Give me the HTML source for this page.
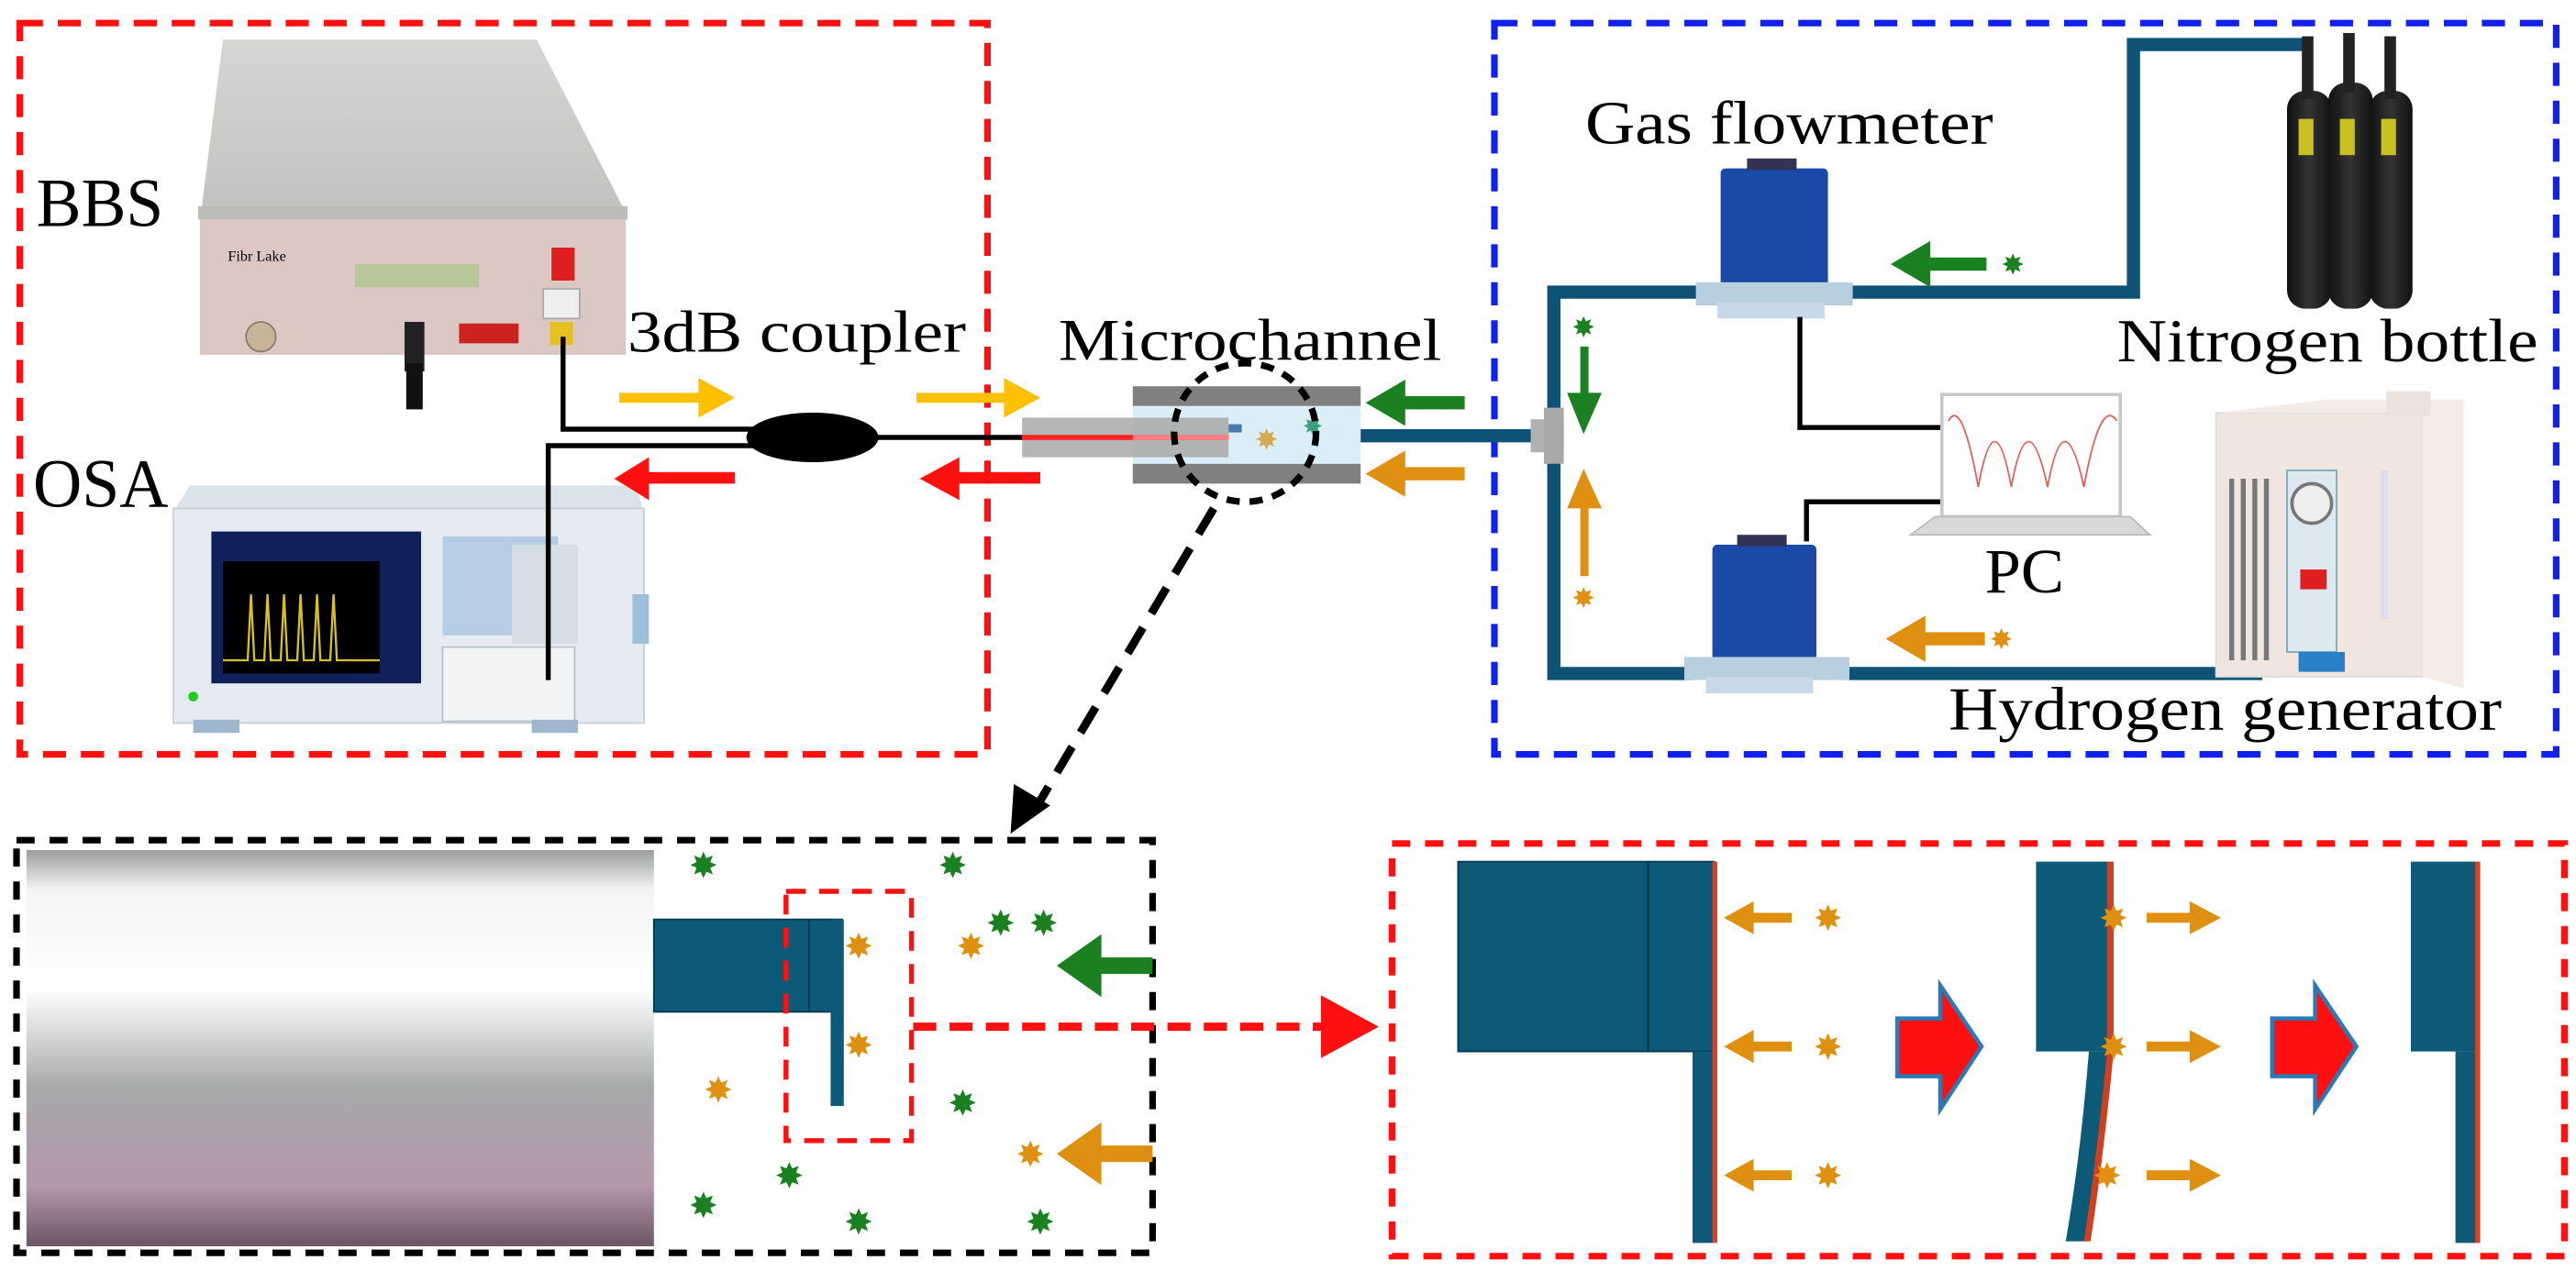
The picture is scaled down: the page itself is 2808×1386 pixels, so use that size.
<!DOCTYPE html>
<html><head><meta charset="utf-8"><style>
html,body{margin:0;padding:0;background:#fff;}
svg{display:block;}
text{font-family:"Liberation Serif",serif;fill:#000;}
</style></head><body>
<svg width="2808" height="1386" viewBox="0 0 1560 770" xmlns="http://www.w3.org/2000/svg">
<defs>
<polygon id="st" points="8,0 4.16,1.72 5.66,5.66 1.72,4.16 0,8 -1.72,4.16 -5.66,5.66 -4.16,1.72 -8,0 -4.16,-1.72 -5.66,-5.66 -1.72,-4.16 0,-8 1.72,-4.16 5.66,-5.66 4.16,-1.72"/>
<linearGradient id="cyl" x1="0" y1="0" x2="0" y2="1">
<stop offset="0" stop-color="#9a9c9c"/><stop offset="0.1" stop-color="#f4f4f4"/><stop offset="0.35" stop-color="#ffffff"/><stop offset="0.6" stop-color="#a7a9a9"/><stop offset="0.85" stop-color="#b596ad"/><stop offset="1" stop-color="#6b5566"/>
</linearGradient>
<linearGradient id="bbsTop" x1="0" y1="0" x2="0" y2="1"><stop offset="0" stop-color="#d6d6d4"/><stop offset="1" stop-color="#c2c2c0"/></linearGradient>
<linearGradient id="bot" x1="0" y1="0" x2="1" y2="0"><stop offset="0" stop-color="#111"/><stop offset="0.5" stop-color="#333"/><stop offset="1" stop-color="#111"/></linearGradient>
</defs>

<!-- Dashed boxes -->
<rect x="12" y="14" width="586" height="443" fill="none" stroke="#ff1010" stroke-width="4" stroke-dasharray="14,9"/>
<rect x="905" y="14" width="643" height="443" fill="none" stroke="#1020ee" stroke-width="4" stroke-dasharray="14,9"/>
<rect x="10" y="509" width="688" height="250" fill="none" stroke="#000" stroke-width="4" stroke-dasharray="11,9"/>
<rect x="843" y="511" width="710" height="250" fill="none" stroke="#ff1010" stroke-width="4" stroke-dasharray="11,9"/>

<!-- BBS device -->
<polygon points="135,24 325,24 378,127 122,127" fill="url(#bbsTop)"/>
<rect x="120" y="125" width="260" height="8" fill="#bdbbb8"/>
<rect x="121" y="133" width="258" height="82" fill="#dcc8c2"/>
<rect x="215" y="160" width="75" height="14" fill="#b8c79a"/>
<circle cx="158" cy="204" r="9" fill="#c9b49a" stroke="#8a7a6a"/>
<rect x="278" y="196" width="36" height="12" fill="#c22"/>
<rect x="245" y="195" width="12" height="30" fill="#222"/>
<rect x="246" y="220" width="10" height="28" fill="#111"/>
<rect x="334" y="150" width="14" height="20" fill="#e02020"/>
<rect x="329" y="175" width="22" height="18" fill="#eee" stroke="#aaa"/>
<rect x="333" y="195" width="14" height="14" fill="#e6c020"/>
<text x="138" y="158" font-size="9" fill="#444">Fibr Lake</text>

<!-- OSA -->
<polygon points="115,294 385,294 390,310 105,310" fill="#dbe3ea"/>
<rect x="105" y="308" width="285" height="130" fill="#e5ebf0" stroke="#c5cfd8"/>
<rect x="128" y="322" width="127" height="92" fill="#10205a"/>
<rect x="135" y="340" width="95" height="68" fill="#000"/>
<polyline points="135,400 150,400 152,360 154,400 160,400 162,360 164,400 170,400 172,360 174,400 180,400 182,360 184,400 190,400 192,360 194,400 200,400 202,360 204,400 230,400" fill="none" stroke="#d8c020" stroke-width="1.3"/>
<rect x="268" y="325" width="70" height="60" fill="#b7cde3"/>
<rect x="310" y="330" width="40" height="60" fill="#d5dee7"/>
<rect x="268" y="392" width="80" height="45" fill="#f2f4f6" stroke="#b8c2cc"/>
<rect x="383" y="360" width="10" height="30" fill="#9fc0dc"/>
<rect x="117" y="436" width="28" height="8" fill="#9fb7cc"/>
<rect x="322" y="436" width="28" height="8" fill="#9fb7cc"/>
<circle cx="117" cy="422" r="3" fill="#2c2"/>

<!-- Labels left -->
<text x="22" y="137" font-size="42" textLength="77" lengthAdjust="spacingAndGlyphs">BBS</text>
<text x="20" y="307" font-size="42" textLength="82" lengthAdjust="spacingAndGlyphs">OSA</text>
<text x="380" y="213" font-size="36" textLength="205" lengthAdjust="spacingAndGlyphs">3dB coupler</text>
<text x="641" y="218" font-size="36" textLength="232" lengthAdjust="spacingAndGlyphs">Microchannel</text>

<!-- Fibers -->
<polyline points="341,204 341,260 470,260" fill="none" stroke="#000" stroke-width="3"/>
<polyline points="332,412 332,270 470,270" fill="none" stroke="#000" stroke-width="3"/>
<ellipse cx="492" cy="265" rx="40" ry="15" fill="#000"/>
<line x1="525" y1="265" x2="625" y2="265" stroke="#000" stroke-width="3"/>

<!-- Microchannel -->
<rect x="686" y="234" width="138" height="12" fill="#808080"/>
<rect x="686" y="246" width="138" height="35" fill="#daeef8"/>
<rect x="686" y="281" width="138" height="12" fill="#808080"/>
<rect x="619" y="253" width="125" height="24" fill="#a8a8a8" opacity="0.85"/>
<line x1="619" y1="265" x2="744" y2="265" stroke="#ff2020" stroke-width="3"/>
<line x1="686" y1="265" x2="744" y2="265" stroke="#ff8080" stroke-width="3"/>
<rect x="744" y="257" width="8" height="5" fill="#4a7ab0"/>
<use href="#st" transform="translate(767,266) scale(0.8)" fill="#d4a850"/>
<use href="#st" transform="translate(795,258) scale(0.7)" fill="#3aa080"/>
<ellipse cx="754" cy="262" rx="43" ry="42" fill="none" stroke="#000" stroke-width="4" stroke-dasharray="8,6"/>

<!-- Arrows top-left -->
<g fill="#ffc000"><rect x="375" y="238" width="50" height="6"/><polygon points="423,229 445,241 423,253"/>
<rect x="555" y="238" width="55" height="6"/><polygon points="608,229 630,241 608,253"/></g>
<g fill="#ff1010"><rect x="392" y="286" width="53" height="7"/><polygon points="393,277 372,290 393,303"/>
<rect x="580" y="286" width="50" height="7"/><polygon points="581,277 557,290 581,303"/></g>
<g fill="#1a8020"><rect x="850" y="240" width="37" height="8"/><polygon points="851,230 827,244 851,258"/></g>
<g fill="#e09010"><rect x="850" y="283" width="37" height="8"/><polygon points="851,273 827,287 851,301"/></g>

<!-- Black dashed arrow -->
<line x1="735" y1="308" x2="627" y2="490" stroke="#000" stroke-width="5" stroke-dasharray="18,10"/>
<polygon points="612,505 614,475 636,488" fill="#000"/>

<!-- Pipes -->
<g fill="none" stroke="#0e5275" stroke-width="8">
<line x1="824" y1="264" x2="930" y2="264"/>
<polyline points="1025,408 941,408 941,177 1030,177"/>
<polyline points="1120,177 1292,177 1292,27 1395,27"/>
<line x1="1118" y1="408" x2="1370" y2="408"/>
</g>
<rect x="927" y="254" width="20" height="20" fill="#b0b0b0"/>
<rect x="935" y="247" width="12" height="34" fill="#a8a8a8"/>

<!-- Flowmeters -->
<rect x="1042" y="102" width="65" height="80" rx="3" fill="#1a4aa8"/>
<rect x="1058" y="96" width="30" height="7" fill="#335"/>
<rect x="1027" y="171" width="95" height="14" fill="#b8cfe0"/>
<rect x="1040" y="183" width="65" height="10" fill="#c8d8e8"/>
<rect x="1037" y="330" width="63" height="72" rx="3" fill="#1a4aa8"/>
<rect x="1052" y="324" width="30" height="7" fill="#335"/>
<rect x="1020" y="398" width="100" height="14" fill="#b8cfe0"/>
<rect x="1033" y="410" width="65" height="10" fill="#c8d8e8"/>
<text x="960" y="87" font-size="37" textLength="247" lengthAdjust="spacingAndGlyphs">Gas flowmeter</text>

<!-- PC -->
<polyline points="1090,192 1090,259 1177,259" fill="none" stroke="#000" stroke-width="3"/>
<polyline points="1177,304 1094,304 1094,328" fill="none" stroke="#000" stroke-width="3"/>
<rect x="1176" y="239" width="108" height="74" fill="#fff" stroke="#c8c8c8" stroke-width="2"/>
<path d="M1180,255 Q1188,240 1198,295 Q1208,240 1218,295 Q1228,240 1240,295 Q1250,240 1262,295 Q1272,240 1282,255" fill="none" stroke="#e06060" stroke-width="1"/>
<polygon points="1172,313 1290,313 1302,324 1157,324" fill="#d8d8d8" stroke="#bbb"/>
<text x="1202" y="359" font-size="38" textLength="48" lengthAdjust="spacingAndGlyphs">PC</text>

<!-- Nitrogen bottles -->
<g fill="url(#bot)">
<rect x="1385" y="55" width="27" height="132" rx="11"/>
<rect x="1410" y="50" width="27" height="137" rx="11"/>
<rect x="1435" y="55" width="26" height="132" rx="11"/>
<rect x="1394" y="22" width="7" height="38" fill="#222"/>
<rect x="1419" y="20" width="7" height="36" fill="#222"/>
<rect x="1444" y="22" width="7" height="38" fill="#222"/>
</g>
<g fill="#c8c020"><rect x="1392" y="72" width="9" height="22"/><rect x="1417" y="72" width="9" height="22"/><rect x="1442" y="72" width="9" height="22"/></g>
<text x="1282" y="219" font-size="37" textLength="255" lengthAdjust="spacingAndGlyphs">Nitrogen bottle</text>

<!-- Hydrogen generator -->
<rect x="1342" y="250" width="125" height="160" fill="#f1e6df" stroke="#ddd"/>
<polygon points="1342,250 1410,242 1492,242 1492,417 1467,410 1467,250" fill="#f5ece6"/>
<rect x="1445" y="237" width="27" height="15" fill="#ece4dc"/>
<rect x="1350" y="290" width="3" height="110" fill="#777"/><rect x="1357" y="290" width="3" height="110" fill="#777"/><rect x="1364" y="290" width="3" height="110" fill="#777"/><rect x="1371" y="290" width="3" height="110" fill="#777"/>
<rect x="1385" y="285" width="30" height="110" fill="#dde8f0" stroke="#7ab"/>
<circle cx="1400" cy="305" r="12" fill="#eee" stroke="#777" stroke-width="2"/>
<rect x="1393" y="345" width="16" height="12" fill="#e02020"/>
<rect x="1442" y="285" width="4" height="90" fill="#dde"/>
<rect x="1392" y="395" width="28" height="12" fill="#2a80c8"/>
<text x="1180" y="442" font-size="37" textLength="335" lengthAdjust="spacingAndGlyphs">Hydrogen generator</text>

<!-- Gas arrows -->
<g fill="#1a8020">
<rect x="1168" y="156" width="35" height="8"/><polygon points="1169,146 1145,160 1169,174"/>
<use href="#st" transform="translate(1219,160) scale(0.8)"/>
<rect x="957" y="210" width="5" height="30"/><polygon points="949,238 970,238 959,263"/>
<use href="#st" transform="translate(959,198) scale(0.8)"/>
</g>
<g fill="#e09010">
<rect x="957" y="305" width="5" height="44"/><polygon points="949,308 970,308 959,284"/>
<use href="#st" transform="translate(959,362) scale(0.8)"/>
<rect x="1165" y="383" width="37" height="8"/><polygon points="1166,373 1142,387 1166,401"/>
<use href="#st" transform="translate(1212,387) scale(0.8)"/>
</g>

<!-- Bottom-left zoom -->
<rect x="16" y="515" width="380" height="240" fill="url(#cyl)"/>
<rect x="396" y="557" width="114" height="56" fill="#0c5a78" stroke="#083850" stroke-width="1"/>
<line x1="490" y1="557" x2="490" y2="613" stroke="#083850"/>
<rect x="503" y="557" width="8" height="113" fill="#0c5a78"/>
<rect x="476" y="540" width="76" height="151" fill="none" stroke="#ff1010" stroke-width="3" stroke-dasharray="12,8"/>
<line x1="553" y1="622" x2="800" y2="622" stroke="#ff1010" stroke-width="5" stroke-dasharray="14,8"/>
<polygon points="800,603 835,622 800,641" fill="#ff1010"/>
<g fill="#1a8020">
<use href="#st" transform="translate(426,524)"/>
<use href="#st" transform="translate(577,524)"/>
<use href="#st" transform="translate(606,559)"/>
<use href="#st" transform="translate(632,559)"/>
<use href="#st" transform="translate(583,668)"/>
<use href="#st" transform="translate(478,712)"/>
<use href="#st" transform="translate(426,730)"/>
<use href="#st" transform="translate(520,740)"/>
<use href="#st" transform="translate(630,740)"/>
<rect x="665" y="580" width="33" height="10"/><polygon points="667,566 640,585 667,604"/>
</g>
<g fill="#e09010">
<use href="#st" transform="translate(520,573)"/>
<use href="#st" transform="translate(588,573)"/>
<use href="#st" transform="translate(520,633)"/>
<use href="#st" transform="translate(435,660)"/>
<use href="#st" transform="translate(624,699)"/>
<rect x="665" y="694" width="33" height="10"/><polygon points="667,680 640,699 667,718"/>
</g>

<!-- Bottom-right process -->
<rect x="883" y="522" width="155" height="115" fill="#0c5a78" stroke="#083850"/>
<line x1="998" y1="522" x2="998" y2="637" stroke="#083850" stroke-width="1.5"/>
<rect x="1025" y="637" width="13" height="116" fill="#0c5a78"/>
<rect x="1037" y="522" width="3" height="231" fill="#e04020"/>

<rect x="1233" y="522" width="45" height="115" fill="#0c5a78"/>
<path d="M1265,637 L1278,637 Q1272,700 1264,752 L1251,752 Q1260,700 1265,637 Z" fill="#0c5a78"/>
<path d="M1276,522 L1280,522 L1280,637 Q1274,700 1266,752 L1262,752 Q1270,700 1276,637 Z" fill="#d04020"/>

<rect x="1460" y="522" width="40" height="115" fill="#0c5a78"/>
<rect x="1487" y="637" width="13" height="116" fill="#0c5a78"/>
<rect x="1499" y="522" width="3" height="231" fill="#e04020"/>

<g fill="#e09010">
<g transform="translate(0,556)"><rect x="1060" y="-3" width="25" height="6"/><polygon points="1062,-10 1044,0 1062,10"/><use href="#st" transform="translate(1107,0)"/>
<use href="#st" transform="translate(1280,0)"/><rect x="1300" y="-3" width="28" height="6"/><polygon points="1326,-10 1345,0 1326,10"/></g>
<g transform="translate(0,634)"><rect x="1060" y="-3" width="25" height="6"/><polygon points="1062,-10 1044,0 1062,10"/><use href="#st" transform="translate(1107,0)"/>
<use href="#st" transform="translate(1280,0)"/><rect x="1300" y="-3" width="28" height="6"/><polygon points="1326,-10 1345,0 1326,10"/></g>
<g transform="translate(0,712)"><rect x="1060" y="-3" width="25" height="6"/><polygon points="1062,-10 1044,0 1062,10"/><use href="#st" transform="translate(1107,0)"/>
<use href="#st" transform="translate(1276,0)"/><rect x="1300" y="-3" width="28" height="6"/><polygon points="1326,-10 1345,0 1326,10"/></g>
</g>

<g stroke="#2a7ab8" stroke-width="2.5" fill="#ff1010">
<polygon points="1149,617 1175,617 1175,597 1200,634 1175,672 1175,652 1149,652"/>
<polygon points="1376,617 1402,617 1402,597 1427,634 1402,672 1402,652 1376,652"/>
</g>
</svg>
</body></html>
